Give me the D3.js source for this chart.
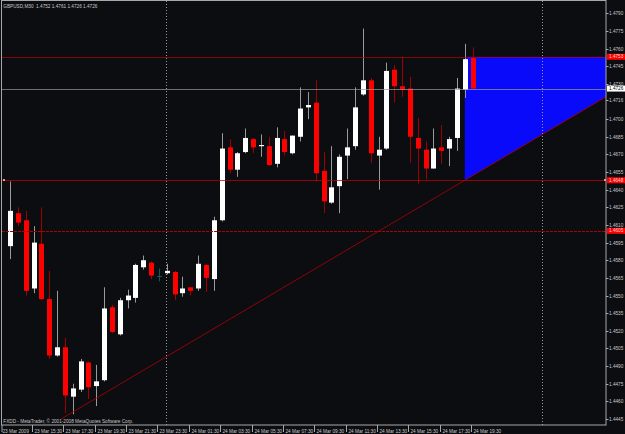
<!DOCTYPE html>
<html>
<head>
<meta charset="utf-8">
<script src="https://cdn.jsdelivr.net/npm/d3@7"></script>
<style>
  body { margin: 0; background: #0c0d11; }
  svg { display: block; }
</style>
</head>
<body>
<svg></svg>
<script>
// GBPUSD M30 bars, 23 Mar 14:00 .. 24 Mar 19:30
const opens  = [1.4592,1.4620,1.4614,1.4556,1.4594,1.4547,1.4499,1.4506,1.4464,1.4470,
                1.4493,1.4473,1.4478,1.4540,1.4517,1.4546,1.4548,1.4574,1.4578,1.4567,
                1.4569,1.4570,1.4552,1.4557,1.4556,1.4576,1.4564,1.4614,1.4676,1.4657,
                1.4672,1.4683,1.4677,1.4677,1.4662,1.4683,1.4671,1.4685,1.4710,1.4714,
                1.4656,1.4629,1.4643,1.4669,1.4677,1.4721,1.4733,1.4669,1.4675,1.4742,
                1.4728,1.4726,1.4684,1.4674,1.4658,1.4676,1.4675,1.4684,1.4725,1.4752];
const highs  = [1.4647,1.4625,1.4622,1.4609,1.4625,1.4571,1.4554,1.4514,1.4475,1.4496,
                1.4494,1.4491,1.4557,1.4542,1.4548,1.4555,1.4577,1.4584,1.4579,1.4573,
                1.4577,1.4571,1.4566,1.4557,1.4584,1.4577,1.4617,1.4688,1.4683,1.4672,
                1.4692,1.4684,1.4687,1.4685,1.4693,1.4690,1.4686,1.4727,1.4723,1.4733,
                1.4672,1.4677,1.4670,1.4692,1.4727,1.4777,1.4735,1.4685,1.4748,1.4746,
                1.4753,1.4736,1.4701,1.4681,1.4692,1.4695,1.4685,1.4735,1.4764,1.4761];
const lows   = [1.4581,1.4609,1.4550,1.4552,1.4546,1.4496,1.4498,1.4450,1.4449,1.4468,
                1.4462,1.4456,1.4477,1.4518,1.4516,1.4539,1.4544,1.4572,1.4564,1.4562,
                1.4568,1.4546,1.4549,1.4550,1.4554,1.4553,1.4554,1.4613,1.4654,1.4651,
                1.4671,1.4671,1.4668,1.4660,1.4659,1.4669,1.4670,1.4681,1.4700,1.4647,
                1.4620,1.4628,1.4620,1.4649,1.4674,1.4720,1.4663,1.4640,1.4674,1.4714,
                1.4719,1.4663,1.4645,1.4649,1.4658,1.4662,1.4660,1.4673,1.4718,1.4726];
const closes = [1.4622,1.4612,1.4554,1.4595,1.4547,1.4499,1.4506,1.4465,1.4471,1.4494,
                1.4472,1.4477,1.4539,1.4519,1.4546,1.4550,1.4576,1.4580,1.4567,1.4567,
                1.4571,1.4551,1.4556,1.4554,1.4577,1.4565,1.4614,1.4675,1.4657,1.4671,
                1.4684,1.4676,1.4678,1.4661,1.4684,1.4672,1.4686,1.4709,1.4712,1.4654,
                1.4630,1.4642,1.4668,1.4676,1.4710,1.4733,1.4671,1.4674,1.4741,1.4728,
                1.4725,1.4685,1.4675,1.4658,1.4675,1.4673,1.4683,1.4726,1.4751,1.4726];

const priceTicks = ["1.4790","1.4775","1.4760","1.4745","1.4730","1.4716","1.4700","1.4685",
                    "1.4670","1.4655","1.4640","1.4625","1.4610","1.4595","1.4580","1.4565",
                    "1.4550","1.4535","1.4520","1.4505","1.4490","1.4475","1.4460","1.4445"];

const timeTickIdx = [3, 7, 11, 15, 19, 23, 27, 31, 35, 39, 43, 47, 51, 55, 59];
const timeTickLabels = ["23 Mar 15:30","23 Mar 17:30","23 Mar 19:30","23 Mar 21:30","23 Mar 23:30",
                        "24 Mar 01:30","24 Mar 03:30","24 Mar 05:30","24 Mar 07:30","24 Mar 09:30",
                        "24 Mar 11:30","24 Mar 13:30","24 Mar 15:30","24 Mar 17:30","24 Mar 19:30"];
const firstDateLabel = "23 Mar 2009";
const daySeparators = [20, 68];

const resistance = 1.4753;
const support = 1.4648;
const dottedLevel = 1.4605;
const bid = 1.4726;
const trendIdx = [6.5, 58];
const trendPrice = [1.4445, 1.4648];

const title = "GBPUSD,M30  1.4752 1.4761 1.4726 1.4726";
const footer = "FXDD - MetaTrader, \u00a9 2001-2008 MetaQuotes Software Corp.";

const width = 625, height = 434;
const plot = { left: 2, right: 606, top: 1, bottom: 425 };
const font = "'Liberation Sans', Arial, sans-serif";
const fs = 4.7;

const x = d3.scaleLinear().domain([0, 59]).range([10, 472.6]);
const y = d3.scaleLinear().domain([1.4445, 1.4790]).range([419, 13.3]);
const trend = d3.scaleLinear().domain(trendIdx).range(trendPrice);

const svg = d3.select("svg")
    .attr("width", width)
    .attr("height", height)
    .attr("viewBox", [0, 0, width, height]);

svg.append("rect").attr("width", width).attr("height", height).attr("fill", "#0c0d11");

svg.append("clipPath").attr("id", "plot")
  .append("rect")
    .attr("x", plot.left).attr("y", plot.top)
    .attr("width", plot.right - plot.left).attr("height", plot.bottom - plot.top);

const g = svg.append("g").attr("clip-path", "url(#plot)");

// blue zone between resistance and trend line
const endIdx = 90;
const zone = [[58, resistance], [endIdx, resistance], [endIdx, trend(endIdx)], [58, support]];
g.append("path")
    .attr("d", d3.line().x(d => x(d[0])).y(d => y(d[1]))(zone) + "Z")
    .attr("fill", "#0a0afa");

// day separators
g.selectAll(".sep")
  .data(daySeparators)
  .join("line")
    .attr("x1", d => Math.round(x(d)) - 0.5).attr("x2", d => Math.round(x(d)) - 0.5)
    .attr("y1", plot.top).attr("y2", plot.bottom)
    .attr("stroke", "#9a9a9a")
    .attr("stroke-dasharray", "1,2");

// candles
const bars = opens.map((o, i) => ({ i, o, h: highs[i], l: lows[i], c: closes[i] }));
const cx = d => Math.round(x(d.i)) + 0.5;

const candle = g.append("g").selectAll("g").data(bars).join("g");

candle.append("line")
    .attr("x1", cx).attr("x2", cx)
    .attr("y1", d => y(d.h)).attr("y2", d => y(d.l))
    .attr("stroke", d => d.c > d.o ? "#9a9a9a" : d.c < d.o ? "#a00000" : "#0f5a5a");

candle.filter(d => d.c === d.o).append("line")
    .attr("x1", d => cx(d) - 2.5).attr("x2", d => cx(d) + 2.5)
    .attr("y1", d => Math.round(y(d.c)) + 0.5).attr("y2", d => Math.round(y(d.c)) + 0.5)
    .attr("stroke", "#0f5a5a");

candle.filter(d => d.c !== d.o).append("rect")
    .attr("x", d => cx(d) - 2.5)
    .attr("width", 5)
    .attr("y", d => y(Math.max(d.o, d.c)))
    .attr("height", d => Math.max(1.2, Math.abs(y(d.o) - y(d.c))))
    .attr("fill", d => d.c > d.o ? "#ffffff" : "#ff0000");

// horizontal levels (drawn over the chart)
const hline = (p, color, dash, op) => g.append("line")
    .attr("x1", plot.left).attr("x2", plot.right)
    .attr("y1", Math.round(y(p)) + 0.5).attr("y2", Math.round(y(p)) + 0.5)
    .attr("stroke", color)
    .attr("stroke-opacity", op)
    .attr("stroke-dasharray", dash);

hline(resistance, "#c00000", null, 0.7);
hline(bid, "#9a9a9a", null, 0.7);
hline(support, "#c00000", null, 0.75);
hline(dottedLevel, "#b00000", "3,1", 1);

// trend line
g.append("line")
    .attr("x1", x(trendIdx[0])).attr("y1", y(trendPrice[0]))
    .attr("x2", x(endIdx)).attr("y2", y(trend(endIdx)))
    .attr("stroke", "#b00000")
    .attr("stroke-opacity", 0.8);

// endpoint markers of the support line
[plot.left + 1, plot.right - 2].forEach(px => {
  g.append("rect").attr("x", px).attr("y", Math.round(y(support)) - 1)
    .attr("width", 2).attr("height", 2).attr("fill", "#ff9090");
});

// frame
svg.append("rect")
    .attr("x", plot.left - 0.5).attr("y", plot.top - 0.5)
    .attr("width", plot.right - plot.left + 0.5).attr("height", plot.bottom - plot.top + 0.5)
    .attr("fill", "none")
    .attr("stroke", "#a8a8a8");

// price axis
const axis = svg.append("g")
    .attr("font-family", font)
    .attr("font-size", fs)
    .attr("fill", "#c8c8c8");

priceTicks.forEach(t => {
  const py = Math.round(y(+t)) + 0.5;
  axis.append("line").attr("x1", plot.right).attr("x2", plot.right + 2.5)
    .attr("y1", py).attr("y2", py).attr("stroke", "#a8a8a8");
  axis.append("text").attr("x", 609).attr("y", py).attr("dy", "0.35em").text(t);
});

// coloured price labels
const tag = (p, bg, fg) => {
  const py = y(p);
  axis.append("rect").attr("x", plot.right + 1).attr("y", py - 3)
    .attr("width", width - plot.right - 1).attr("height", 6).attr("fill", bg);
  axis.append("text").attr("x", 609).attr("y", py).attr("dy", "0.35em")
    .attr("fill", fg).text(p.toFixed(4));
};
tag(resistance, "#ff0000", "#ffd0d0");
tag(bid, "#ffffff", "#000000");
tag(support, "#ff0000", "#ffd0d0");
tag(dottedLevel, "#ff0000", "#ffd0d0");

// time axis
axis.append("line").attr("x1", plot.left).attr("x2", plot.left)
  .attr("y1", plot.bottom).attr("y2", plot.bottom + 7).attr("stroke", "#a8a8a8");
axis.append("text").attr("x", 2.5).attr("y", 432.5).text(firstDateLabel);

timeTickIdx.forEach((idx, k) => {
  const tx = Math.round(x(idx) - 1.5) + 0.5;
  axis.append("line").attr("x1", tx).attr("x2", tx)
    .attr("y1", plot.bottom).attr("y2", plot.bottom + 7).attr("stroke", "#a8a8a8");
  axis.append("text").attr("x", tx + 2).attr("y", 432.5).text(timeTickLabels[k]);
});

// captions
axis.append("text").attr("x", 3.3).attr("y", 7.5).text(title).style("white-space", "pre");
axis.append("text").attr("x", 3.3).attr("y", 423).text(footer);
</script>
</body>
</html>
